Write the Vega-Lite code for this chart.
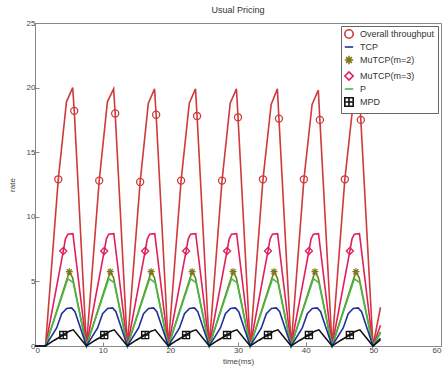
{
  "$schema": "https://vega.github.io/schema/vega-lite/v6.json",
  "width": 406,
  "height": 323,
  "autosize": {"type": "none"},
  "padding": {"left": 35, "top": 23, "right": 5, "bottom": 27},
  "background": "white",
  "title": {"text": "Usual Pricing", "fontSize": 9, "fontWeight": "normal", "font": "Liberation Sans", "color": "#333", "offset": 4},
  "config": {
    "view": {"stroke": "#888", "strokeWidth": 1},
    "axis": {"labelFontSize": 8, "labelFont": "Liberation Sans", "labelColor": "#444", "titleFontSize": 8, "titleFont": "Liberation Sans", "titleFontWeight": "normal", "titleColor": "#444", "grid": false, "domain": false, "tickColor": "#888", "tickSize": -4, "labelPadding": 4}
  },
  "data": {"values": [
    {"s":"Overall throughput","t":0,"v":0},{"s":"Overall throughput","t":1.55,"v":0},
    {"s":"Overall throughput","t":3.44,"v":12.9,"m":1},{"s":"Overall throughput","t":4.65,"v":18.9},{"s":"Overall throughput","t":5.57,"v":20.0},{"s":"Overall throughput","t":5.80,"v":18.2,"m":1},{"s":"Overall throughput","t":7.60,"v":0},
    {"s":"Overall throughput","t":9.49,"v":12.8,"m":1},{"s":"Overall throughput","t":10.70,"v":18.9},{"s":"Overall throughput","t":11.62,"v":19.9},{"s":"Overall throughput","t":11.85,"v":18.0,"m":1},{"s":"Overall throughput","t":13.65,"v":0},
    {"s":"Overall throughput","t":15.54,"v":12.7,"m":1},{"s":"Overall throughput","t":16.75,"v":18.8},{"s":"Overall throughput","t":17.67,"v":19.9},{"s":"Overall throughput","t":17.90,"v":17.9,"m":1},{"s":"Overall throughput","t":19.70,"v":0},
    {"s":"Overall throughput","t":21.59,"v":12.8,"m":1},{"s":"Overall throughput","t":22.80,"v":18.8},{"s":"Overall throughput","t":23.72,"v":19.9},{"s":"Overall throughput","t":23.95,"v":17.8,"m":1},{"s":"Overall throughput","t":25.75,"v":0},
    {"s":"Overall throughput","t":27.64,"v":12.8,"m":1},{"s":"Overall throughput","t":28.85,"v":18.8},{"s":"Overall throughput","t":29.77,"v":19.9},{"s":"Overall throughput","t":30.00,"v":17.7,"m":1},{"s":"Overall throughput","t":31.80,"v":0},
    {"s":"Overall throughput","t":33.69,"v":12.9,"m":1},{"s":"Overall throughput","t":34.90,"v":18.7},{"s":"Overall throughput","t":35.82,"v":19.9},{"s":"Overall throughput","t":36.05,"v":17.6,"m":1},{"s":"Overall throughput","t":37.85,"v":0},
    {"s":"Overall throughput","t":39.74,"v":12.9,"m":1},{"s":"Overall throughput","t":40.95,"v":18.7},{"s":"Overall throughput","t":41.87,"v":19.8},{"s":"Overall throughput","t":42.10,"v":17.5,"m":1},{"s":"Overall throughput","t":43.90,"v":0},
    {"s":"Overall throughput","t":45.79,"v":12.9,"m":1},{"s":"Overall throughput","t":47.00,"v":18.7},{"s":"Overall throughput","t":47.92,"v":19.8},{"s":"Overall throughput","t":48.15,"v":17.5,"m":1},{"s":"Overall throughput","t":49.95,"v":0},
    {"s":"Overall throughput","t":51.06,"v":3.0},

    {"s":"MuTCP(m=3)","t":0,"v":0},{"s":"MuTCP(m=3)","t":1.55,"v":0},
    {"s":"MuTCP(m=3)","t":4.18,"v":7.35,"m":1},{"s":"MuTCP(m=3)","t":4.50,"v":8.3},{"s":"MuTCP(m=3)","t":4.85,"v":8.65},{"s":"MuTCP(m=3)","t":5.60,"v":8.7},{"s":"MuTCP(m=3)","t":7.60,"v":0},
    {"s":"MuTCP(m=3)","t":10.23,"v":7.35,"m":1},{"s":"MuTCP(m=3)","t":10.55,"v":8.3},{"s":"MuTCP(m=3)","t":10.90,"v":8.65},{"s":"MuTCP(m=3)","t":11.65,"v":8.7},{"s":"MuTCP(m=3)","t":13.65,"v":0},
    {"s":"MuTCP(m=3)","t":16.28,"v":7.35,"m":1},{"s":"MuTCP(m=3)","t":16.60,"v":8.3},{"s":"MuTCP(m=3)","t":16.95,"v":8.65},{"s":"MuTCP(m=3)","t":17.70,"v":8.7},{"s":"MuTCP(m=3)","t":19.70,"v":0},
    {"s":"MuTCP(m=3)","t":22.33,"v":7.35,"m":1},{"s":"MuTCP(m=3)","t":22.65,"v":8.3},{"s":"MuTCP(m=3)","t":23.00,"v":8.65},{"s":"MuTCP(m=3)","t":23.75,"v":8.7},{"s":"MuTCP(m=3)","t":25.75,"v":0},
    {"s":"MuTCP(m=3)","t":28.38,"v":7.35,"m":1},{"s":"MuTCP(m=3)","t":28.70,"v":8.3},{"s":"MuTCP(m=3)","t":29.05,"v":8.65},{"s":"MuTCP(m=3)","t":29.80,"v":8.7},{"s":"MuTCP(m=3)","t":31.80,"v":0},
    {"s":"MuTCP(m=3)","t":34.43,"v":7.35,"m":1},{"s":"MuTCP(m=3)","t":34.75,"v":8.3},{"s":"MuTCP(m=3)","t":35.10,"v":8.65},{"s":"MuTCP(m=3)","t":35.85,"v":8.7},{"s":"MuTCP(m=3)","t":37.85,"v":0},
    {"s":"MuTCP(m=3)","t":40.48,"v":7.35,"m":1},{"s":"MuTCP(m=3)","t":40.80,"v":8.3},{"s":"MuTCP(m=3)","t":41.15,"v":8.65},{"s":"MuTCP(m=3)","t":41.90,"v":8.7},{"s":"MuTCP(m=3)","t":43.90,"v":0},
    {"s":"MuTCP(m=3)","t":46.53,"v":7.35,"m":1},{"s":"MuTCP(m=3)","t":46.85,"v":8.3},{"s":"MuTCP(m=3)","t":47.20,"v":8.65},{"s":"MuTCP(m=3)","t":47.95,"v":8.7},{"s":"MuTCP(m=3)","t":49.95,"v":0},
    {"s":"MuTCP(m=3)","t":51.06,"v":1.6},

    {"s":"MuTCP(m=2)","t":0,"v":0},{"s":"MuTCP(m=2)","t":1.55,"v":0},
    {"s":"MuTCP(m=2)","t":5.07,"v":5.75,"m":1},{"s":"MuTCP(m=2)","t":5.55,"v":5.3},{"s":"MuTCP(m=2)","t":7.60,"v":0},
    {"s":"MuTCP(m=2)","t":11.12,"v":5.75,"m":1},{"s":"MuTCP(m=2)","t":11.60,"v":5.3},{"s":"MuTCP(m=2)","t":13.65,"v":0},
    {"s":"MuTCP(m=2)","t":17.17,"v":5.75,"m":1},{"s":"MuTCP(m=2)","t":17.65,"v":5.3},{"s":"MuTCP(m=2)","t":19.70,"v":0},
    {"s":"MuTCP(m=2)","t":23.22,"v":5.75,"m":1},{"s":"MuTCP(m=2)","t":23.70,"v":5.3},{"s":"MuTCP(m=2)","t":25.75,"v":0},
    {"s":"MuTCP(m=2)","t":29.27,"v":5.75,"m":1},{"s":"MuTCP(m=2)","t":29.75,"v":5.3},{"s":"MuTCP(m=2)","t":31.80,"v":0},
    {"s":"MuTCP(m=2)","t":35.32,"v":5.75,"m":1},{"s":"MuTCP(m=2)","t":35.80,"v":5.3},{"s":"MuTCP(m=2)","t":37.85,"v":0},
    {"s":"MuTCP(m=2)","t":41.37,"v":5.75,"m":1},{"s":"MuTCP(m=2)","t":41.85,"v":5.3},{"s":"MuTCP(m=2)","t":43.90,"v":0},
    {"s":"MuTCP(m=2)","t":47.42,"v":5.75,"m":1},{"s":"MuTCP(m=2)","t":47.90,"v":5.3},{"s":"MuTCP(m=2)","t":49.95,"v":0},
    {"s":"MuTCP(m=2)","t":51.06,"v":1.1},

    {"s":"P","t":0,"v":0},{"s":"P","t":1.55,"v":0},
    {"s":"P","t":4.85,"v":5.2},{"s":"P","t":5.65,"v":4.9},{"s":"P","t":7.60,"v":0},
    {"s":"P","t":10.90,"v":5.2},{"s":"P","t":11.70,"v":4.9},{"s":"P","t":13.65,"v":0},
    {"s":"P","t":16.95,"v":5.2},{"s":"P","t":17.75,"v":4.9},{"s":"P","t":19.70,"v":0},
    {"s":"P","t":23.00,"v":5.2},{"s":"P","t":23.80,"v":4.9},{"s":"P","t":25.75,"v":0},
    {"s":"P","t":29.05,"v":5.2},{"s":"P","t":29.85,"v":4.9},{"s":"P","t":31.80,"v":0},
    {"s":"P","t":35.10,"v":5.2},{"s":"P","t":35.90,"v":4.9},{"s":"P","t":37.85,"v":0},
    {"s":"P","t":41.15,"v":5.2},{"s":"P","t":41.95,"v":4.9},{"s":"P","t":43.90,"v":0},
    {"s":"P","t":47.20,"v":5.2},{"s":"P","t":48.00,"v":4.9},{"s":"P","t":49.95,"v":0},
    {"s":"P","t":51.06,"v":1.0},

    {"s":"TCP","t":0,"v":0},{"s":"TCP","t":1.55,"v":0},
    {"s":"TCP","t":3.20,"v":1.4},{"s":"TCP","t":3.94,"v":2.5},{"s":"TCP","t":4.68,"v":2.9},{"s":"TCP","t":5.42,"v":2.95},{"s":"TCP","t":5.91,"v":2.65},{"s":"TCP","t":7.60,"v":0},
    {"s":"TCP","t":9.25,"v":1.4},{"s":"TCP","t":9.99,"v":2.5},{"s":"TCP","t":10.73,"v":2.9},{"s":"TCP","t":11.47,"v":2.95},{"s":"TCP","t":11.96,"v":2.65},{"s":"TCP","t":13.65,"v":0},
    {"s":"TCP","t":15.30,"v":1.4},{"s":"TCP","t":16.04,"v":2.5},{"s":"TCP","t":16.78,"v":2.9},{"s":"TCP","t":17.52,"v":2.95},{"s":"TCP","t":18.01,"v":2.65},{"s":"TCP","t":19.70,"v":0},
    {"s":"TCP","t":21.35,"v":1.4},{"s":"TCP","t":22.09,"v":2.5},{"s":"TCP","t":22.83,"v":2.9},{"s":"TCP","t":23.57,"v":2.95},{"s":"TCP","t":24.06,"v":2.65},{"s":"TCP","t":25.75,"v":0},
    {"s":"TCP","t":27.40,"v":1.4},{"s":"TCP","t":28.14,"v":2.5},{"s":"TCP","t":28.88,"v":2.9},{"s":"TCP","t":29.62,"v":2.95},{"s":"TCP","t":30.11,"v":2.65},{"s":"TCP","t":31.80,"v":0},
    {"s":"TCP","t":33.45,"v":1.4},{"s":"TCP","t":34.19,"v":2.5},{"s":"TCP","t":34.93,"v":2.9},{"s":"TCP","t":35.67,"v":2.95},{"s":"TCP","t":36.16,"v":2.65},{"s":"TCP","t":37.85,"v":0},
    {"s":"TCP","t":39.50,"v":1.4},{"s":"TCP","t":40.24,"v":2.5},{"s":"TCP","t":40.98,"v":2.9},{"s":"TCP","t":41.72,"v":2.95},{"s":"TCP","t":42.21,"v":2.65},{"s":"TCP","t":43.90,"v":0},
    {"s":"TCP","t":45.55,"v":1.4},{"s":"TCP","t":46.29,"v":2.5},{"s":"TCP","t":47.03,"v":2.9},{"s":"TCP","t":47.77,"v":2.95},{"s":"TCP","t":48.26,"v":2.65},{"s":"TCP","t":49.95,"v":0},
    {"s":"TCP","t":51.06,"v":0.6},

    {"s":"MPD","t":0,"v":0},{"s":"MPD","t":1.55,"v":0},
    {"s":"MPD","t":2.85,"v":0.45},{"s":"MPD","t":4.18,"v":0.85,"m":1},{"s":"MPD","t":5.05,"v":1.15},{"s":"MPD","t":5.66,"v":1.25},{"s":"MPD","t":7.60,"v":0},
    {"s":"MPD","t":8.90,"v":0.45},{"s":"MPD","t":10.23,"v":0.85,"m":1},{"s":"MPD","t":11.10,"v":1.15},{"s":"MPD","t":11.71,"v":1.25},{"s":"MPD","t":13.65,"v":0},
    {"s":"MPD","t":14.95,"v":0.45},{"s":"MPD","t":16.28,"v":0.85,"m":1},{"s":"MPD","t":17.15,"v":1.15},{"s":"MPD","t":17.76,"v":1.25},{"s":"MPD","t":19.70,"v":0},
    {"s":"MPD","t":21.00,"v":0.45},{"s":"MPD","t":22.33,"v":0.85,"m":1},{"s":"MPD","t":23.20,"v":1.15},{"s":"MPD","t":23.81,"v":1.25},{"s":"MPD","t":25.75,"v":0},
    {"s":"MPD","t":27.05,"v":0.45},{"s":"MPD","t":28.38,"v":0.85,"m":1},{"s":"MPD","t":29.25,"v":1.15},{"s":"MPD","t":29.86,"v":1.25},{"s":"MPD","t":31.80,"v":0},
    {"s":"MPD","t":33.10,"v":0.45},{"s":"MPD","t":34.43,"v":0.85,"m":1},{"s":"MPD","t":35.30,"v":1.15},{"s":"MPD","t":35.91,"v":1.25},{"s":"MPD","t":37.85,"v":0},
    {"s":"MPD","t":39.15,"v":0.45},{"s":"MPD","t":40.48,"v":0.85,"m":1},{"s":"MPD","t":41.35,"v":1.15},{"s":"MPD","t":41.96,"v":1.25},{"s":"MPD","t":43.90,"v":0},
    {"s":"MPD","t":45.20,"v":0.45},{"s":"MPD","t":46.53,"v":0.85,"m":1},{"s":"MPD","t":47.40,"v":1.15},{"s":"MPD","t":48.01,"v":1.25},{"s":"MPD","t":49.95,"v":0},
    {"s":"MPD","t":51.06,"v":0.5}
  ]},
  "encoding": {
    "x": {"field": "t", "type": "quantitative", "title": "time(ms)", "scale": {"domain": [0, 60], "nice": false}, "axis": {"values": [0, 10, 20, 30, 40, 50, 60], "titlePadding": 3}},
    "y": {"field": "v", "type": "quantitative", "title": "rate", "scale": {"domain": [0, 25], "nice": false}, "axis": {"values": [0, 5, 10, 15, 20, 25], "titlePadding": 10}},
    "color": {"field": "s", "type": "nominal", "title": null,
      "scale": {"domain": ["Overall throughput", "TCP", "MuTCP(m=2)", "MuTCP(m=3)", "P", "MPD"],
                "range": ["#cf3a3a", "#23309a", "#7a7a1c", "#e0205a", "#44bb44", "#111111"]},
      "legend": {"orient": "top-right", "offset": 3, "labelFontSize": 9, "labelFont": "Liberation Sans", "labelColor": "#333", "strokeColor": "#666", "fillColor": "white", "padding": 3, "rowPadding": 0, "symbolSize": 70, "symbolStrokeWidth": 1.6, "labelLimit": 120, "labelOffset": 6, "cornerRadius": 0}
    }
  },
  "layer": [
    {"mark": {"type": "line", "strokeWidth": 1.6}, "encoding": {"detail": {"field": "s"}, "strokeWidth": {"condition": {"test": "datum.s == 'Overall throughput'", "value": 2.2}, "value": 1.5}}},
    {"transform": [{"filter": "datum.m == 1"}],
     "mark": {"type": "point", "filled": false, "size": 50, "strokeWidth": 1.3, "opacity": 1},
     "encoding": {
       "shape": {"field": "s", "type": "nominal", "title": null,
         "scale": {"domain": ["Overall throughput", "TCP", "MuTCP(m=2)", "MuTCP(m=3)", "P", "MPD"],
                   "range": ["circle", "stroke", "M-1,0H1M0,-1V1M-0.7,-0.7L0.7,0.7M-0.7,0.7L0.7,-0.7", "diamond", "stroke", "M-1,-1H1V1H-1ZM-1,0H1M0,-1V1"]}}
     }}
  ]
}
